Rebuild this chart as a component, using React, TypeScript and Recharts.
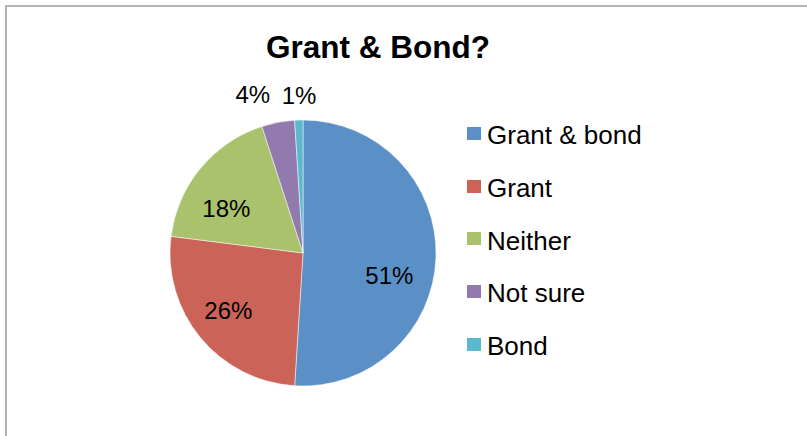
import { Cell, Legend, Pie, PieChart } from "recharts";

const CATEGORIES = ["Grant & bond", "Grant", "Neither", "Not sure", "Bond"];
const SHARES = [51, 26, 18, 4, 1];
const COLORS = ["#5b90c6", "#cb6359", "#a9c26b", "#927aaf", "#5bb8cd"];

// small nudges so labels sit where the original (Excel best-fit) put them
const LABEL_NUDGE: [number, number][] = [
  [-4, 20],
  [-5, 0],
  [-7, 13],
  [-21, -5],
  [1, -2],
];

const FONT = "'Liberation Sans', Arial, sans-serif";
const RADIAN = Math.PI / 180;

const rows = CATEGORIES.map((name, i) => ({ name, value: SHARES[i] }));

function renderLabel(props: any) {
  const { cx, cy, midAngle, outerRadius, index, value } = props;
  const inside = value >= 10;
  const r = inside ? outerRadius * 0.68 : outerRadius + 23;
  const [nx, ny] = LABEL_NUDGE[index] ?? [0, 0];
  const x = cx + r * Math.cos(-midAngle * RADIAN) + nx;
  const y = cy + r * Math.sin(-midAngle * RADIAN) + ny;
  return (
    <text
      x={x}
      y={y}
      textAnchor="middle"
      dominantBaseline="central"
      fill="#000"
      fontSize={24}
      fontFamily={FONT}
    >
      {`${value}%`}
    </text>
  );
}

function LegendList() {
  return (
    <div style={{ fontFamily: FONT, fontSize: 26, color: "#000" }}>
      {CATEGORIES.map((c, i) => (
        <div
          key={c}
          style={{
            display: "flex",
            alignItems: "center",
            height: 52.75,
            lineHeight: "52.75px",
            whiteSpace: "nowrap",
          }}
        >
          <span
            style={{
              display: "inline-block",
              width: 14,
              height: 13,
              background: COLORS[i],
              marginRight: 6,
              position: "relative",
              top: -2,
            }}
          />
          {c}
        </div>
      ))}
    </div>
  );
}

export default function App() {
  return (
    <div
      style={{
        position: "absolute",
        left: 0,
        top: 0,
        width: 807,
        height: 436,
        overflow: "hidden",
        background: "#fff",
      }}
    >
      <div
        style={{
          position: "absolute",
          left: 5,
          top: 5,
          width: 1000,
          height: 1000,
          borderTop: "2px solid #b4b4b4",
          borderLeft: "2px solid #b4b4b4",
        }}
      />
      <div
        style={{
          position: "absolute",
          left: 178,
          top: 32,
          width: 400,
          textAlign: "center",
          fontFamily: FONT,
          fontWeight: "bold",
          fontSize: 31.5,
          lineHeight: 1,
          color: "#000",
        }}
      >
        Grant &amp; Bond?
      </div>
      <div style={{ position: "absolute", left: 0, top: 0 }}>
        <PieChart
          width={807}
          height={436}
          margin={{ top: 0, right: 0, bottom: 0, left: 0 }}
        >
          <Pie
            data={rows}
            dataKey="value"
            nameKey="name"
            cx={303}
            cy={253}
            outerRadius={133}
            startAngle={90}
            endAngle={-270}
            stroke="#ffffff"
            strokeWidth={0.5}
            label={renderLabel}
            labelLine={false}
            isAnimationActive={false}
          >
            {rows.map((r, i) => (
              <Cell key={r.name} fill={COLORS[i]} />
            ))}
          </Pie>
          <Legend
            layout="vertical"
            align="right"
            verticalAlign="top"
            content={() => <LegendList />}
            wrapperStyle={{ left: 467, top: 109, width: 300 }}
          />
        </PieChart>
      </div>
    </div>
  );
}
